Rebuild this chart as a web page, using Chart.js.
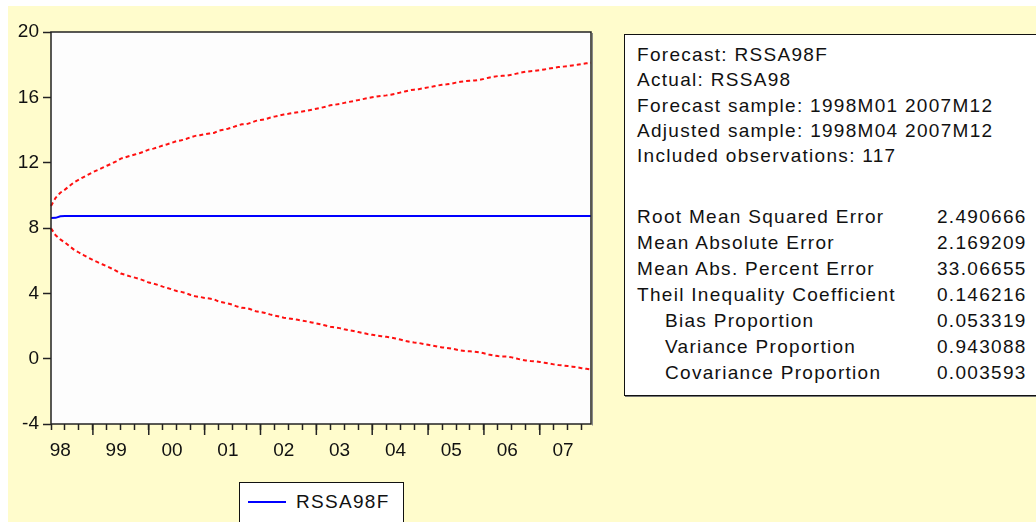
<!DOCTYPE html>
<html>
<head>
<meta charset="utf-8">
<script src="https://cdn.jsdelivr.net/npm/chart.js@4.4.0/dist/chart.umd.min.js"></script>
<style>
  body { margin: 0; width: 1036px; height: 522px; overflow: hidden; position: relative; background: #fff;
         font-family: "Liberation Sans", Arial, sans-serif; color: #111; }
  #panel { position: absolute; left: 8px; top: 6px; right: 0; bottom: 0; background: #fffccc; }
  #chartBox { position: absolute; left: 0; top: 0; width: 600px; height: 522px; }
  #legend { position: absolute; left: 239px; top: 482px; width: 163px; height: 50px; background: #fff;
            border: 1px solid #111; }
  #legend .swatch { position: absolute; left: 8px; top: 18px; width: 38px; height: 2px; background: #0000ff; }
  #legend .name { position: absolute; left: 56px; top: 8px; font-size: 19px; line-height: 22px; letter-spacing: 1.3px; }
  #stats { position: absolute; left: 624px; top: 34px; width: 440px; height: 360px; background: #fff;
           border: 1px solid #111; box-shadow: 1px 1px 0 #777; font-size: 19px; letter-spacing: 1.3px; }
  #stats div { position: absolute; white-space: pre; line-height: 22px; }
</style>
</head>
<body>
<div id="panel"></div>
<div id="chartBox"><canvas id="myChart" width="600" height="522"></canvas></div>
<div id="legend"><div class="swatch"></div><div class="name">RSSA98F</div></div>
<div id="stats"></div>
<script>
// monthly sample 1998M04 .. 2007M12
var months = [];
for (var yr = 1998; yr <= 2007; yr++) {
    for (var mo = 1; mo <= 12; mo++) {
        if (yr === 1998 && mo < 4) continue;
        months.push(yr + "M" + (mo < 10 ? "0" + mo : mo));
    }
}

var forecast = [
    8.61, 8.62, 8.72, 8.73, 8.73, 8.73, 8.73, 8.73, 8.73, 8.73,
    8.73, 8.73, 8.73, 8.73, 8.73, 8.73, 8.73, 8.73, 8.73, 8.73,
    8.73, 8.73, 8.73, 8.73, 8.73, 8.73, 8.73, 8.73, 8.73, 8.73,
    8.73, 8.73, 8.73, 8.73, 8.73, 8.73, 8.73, 8.73, 8.73, 8.73,
    8.73, 8.73, 8.73, 8.73, 8.73, 8.73, 8.73, 8.73, 8.73, 8.73,
    8.73, 8.73, 8.73, 8.73, 8.73, 8.73, 8.73, 8.73, 8.73, 8.73,
    8.73, 8.73, 8.73, 8.73, 8.73, 8.73, 8.73, 8.73, 8.73, 8.73,
    8.73, 8.73, 8.73, 8.73, 8.73, 8.73, 8.73, 8.73, 8.73, 8.73,
    8.73, 8.73, 8.73, 8.73, 8.73, 8.73, 8.73, 8.73, 8.73, 8.73,
    8.73, 8.73, 8.73, 8.73, 8.73, 8.73, 8.73, 8.73, 8.73, 8.73,
    8.73, 8.73, 8.73, 8.73, 8.73, 8.73, 8.73, 8.73, 8.73, 8.73,
    8.73, 8.73, 8.73, 8.73, 8.73, 8.73, 8.73
];

var upperBand = [
    9.35, 9.85, 10.16, 10.35, 10.58, 10.80, 10.96, 11.12, 11.27, 11.42,
    11.55, 11.68, 11.81, 11.94, 12.08, 12.25, 12.33, 12.42, 12.50, 12.58,
    12.68, 12.80, 12.86, 12.95, 13.05, 13.13, 13.22, 13.32, 13.37, 13.45,
    13.56, 13.64, 13.68, 13.74, 13.78, 13.82, 13.96, 14.02, 14.08, 14.16,
    14.27, 14.35, 14.36, 14.45, 14.56, 14.61, 14.66, 14.75, 14.82, 14.88,
    14.95, 14.99, 15.04, 15.08, 15.13, 15.18, 15.24, 15.30, 15.36, 15.43,
    15.51, 15.55, 15.59, 15.66, 15.72, 15.77, 15.83, 15.89, 15.95, 16.00,
    16.05, 16.09, 16.12, 16.16, 16.22, 16.29, 16.36, 16.43, 16.47, 16.50,
    16.56, 16.61, 16.66, 16.72, 16.77, 16.80, 16.84, 16.90, 16.96, 16.99,
    17.01, 17.03, 17.07, 17.13, 17.20, 17.26, 17.30, 17.32, 17.33, 17.38,
    17.45, 17.52, 17.57, 17.60, 17.62, 17.66, 17.71, 17.76, 17.81, 17.85,
    17.88, 17.91, 17.95, 17.99, 18.04, 18.08, 18.12
];

var lowerBand = [
    7.98, 7.55, 7.30, 7.11, 6.88, 6.66, 6.50, 6.34, 6.19, 6.04,
    5.91, 5.78, 5.65, 5.52, 5.38, 5.21, 5.13, 5.04, 4.96, 4.88,
    4.78, 4.66, 4.60, 4.51, 4.41, 4.33, 4.24, 4.14, 4.09, 4.01,
    3.90, 3.82, 3.78, 3.72, 3.68, 3.64, 3.50, 3.44, 3.38, 3.30,
    3.19, 3.11, 3.10, 3.01, 2.90, 2.85, 2.80, 2.71, 2.64, 2.58,
    2.51, 2.47, 2.42, 2.38, 2.33, 2.28, 2.22, 2.16, 2.10, 2.03,
    1.95, 1.91, 1.87, 1.80, 1.74, 1.69, 1.63, 1.57, 1.51, 1.46,
    1.41, 1.37, 1.34, 1.30, 1.24, 1.17, 1.10, 1.03, 0.99, 0.96,
    0.90, 0.85, 0.80, 0.74, 0.69, 0.66, 0.62, 0.56, 0.50, 0.47,
    0.45, 0.43, 0.39, 0.33, 0.26, 0.20, 0.16, 0.14, 0.13, 0.08,
    0.01, -0.06, -0.11, -0.14, -0.16, -0.20, -0.25, -0.30, -0.35, -0.39,
    -0.42, -0.45, -0.49, -0.53, -0.58, -0.62, -0.66
];

var yTicks = [-4, 0, 4, 8, 12, 16, 20];

var headerLines = [
    "Forecast: RSSA98F",
    "Actual: RSSA98",
    "Forecast sample: 1998M01 2007M12",
    "Adjusted sample: 1998M04 2007M12",
    "Included observations: 117"
];
var statNames = [
    "Root Mean Squared Error",
    "Mean Absolute Error",
    "Mean Abs. Percent Error",
    "Theil Inequality Coefficient",
    "   Bias Proportion",
    "   Variance Proportion",
    "   Covariance Proportion"
];
var statValues = ["2.490666", "2.169209", "33.06655", "0.146216", "0.053319", "0.943088", "0.003593"];

// tick positions from the month labels
var quarterIdx = [], yearIdx = [], labelIdx = [];
months.forEach(function (m, i) {
    var mm = m.slice(5);
    if (mm === "01" || mm === "04" || mm === "07" || mm === "10") quarterIdx.push(i);
    if (mm === "01") yearIdx.push(i);
    if (mm === "06") labelIdx.push(i);
});

// stats box text
var stats = document.getElementById("stats");
function addText(t, left, top) {
    var d = document.createElement("div");
    d.textContent = t;
    d.style.left = left + "px";
    d.style.top = top + "px";
    stats.appendChild(d);
}
headerLines.forEach(function (t, i) {
    addText(t, 12, 9 + i * 25.3);
});
statNames.forEach(function (t, i) {
    var indented = t.charAt(0) === " ";
    addText(t.trim(), indented ? 40 : 12, 171 + i * 26);
    addText(statValues[i], 312, 171 + i * 26);
});

var framePlugin = {
    id: "frame",
    beforeDraw: function (chart) {
        var a = chart.chartArea, c = chart.ctx;
        c.save();
        c.fillStyle = "#fdfdfd";
        c.fillRect(a.left, a.top, a.right - a.left, a.bottom - a.top);
        c.restore();
    },
    afterDraw: function (chart) {
        var a = chart.chartArea, c = chart.ctx, xs = chart.scales.x;
        c.save();
        c.strokeStyle = "#222";
        c.lineWidth = 1.5;
        c.strokeRect(a.left, a.top, a.right - a.left, a.bottom - a.top);
        c.strokeStyle = "#888";
        c.lineWidth = 1;
        c.beginPath();
        c.moveTo(a.right + 1.5, a.top + 1);
        c.lineTo(a.right + 1.5, a.bottom + 1.5);
        c.stroke();
        // long ticks at year starts
        c.strokeStyle = "#222";
        c.lineWidth = 1.5;
        yearIdx.forEach(function (v) {
            var px = xs.getPixelForValue(v);
            c.beginPath();
            c.moveTo(px, a.bottom);
            c.lineTo(px, a.bottom + 11);
            c.stroke();
        });
        c.restore();
    }
};

var tickFont = { family: "Liberation Sans", size: 19 };

var ctx = document.getElementById("myChart").getContext("2d");
var myChart = new Chart(ctx, {
    type: "line",
    data: {
        labels: months,
        datasets: [
            {
                label: "Upper",
                data: upperBand,
                borderColor: "#ff1010",
                borderWidth: 2,
                borderDash: [4, 3],
                pointRadius: 0,
                tension: 0,
            },
            {
                label: "Lower",
                data: lowerBand,
                borderColor: "#ff1010",
                borderWidth: 2,
                borderDash: [4, 3],
                pointRadius: 0,
                tension: 0,
            },
            {
                label: "RSSA98F",
                data: forecast,
                borderColor: "#0000ff",
                borderWidth: 2,
                pointRadius: 0,
                tension: 0,
            },
        ],
    },
    options: {
        responsive: false,
        animation: false,
        layout: { padding: { left: 0, top: 32, right: 9, bottom: 58 } },
        plugins: { legend: { display: false }, tooltip: { enabled: false } },
        scales: {
            x: {
                type: "category",
                offset: false,
                border: { display: false },
                grid: {
                    drawOnChartArea: false,
                    tickLength: 6,
                    tickWidth: 1.5,
                    tickColor: function (c) {
                        return c.tick && labelIdx.indexOf(c.tick.value) >= 0 ? "rgba(0,0,0,0)" : "#222";
                    },
                },
                ticks: {
                    autoSkip: false,
                    maxRotation: 0,
                    padding: 9,
                    color: "#111",
                    font: tickFont,
                    callback: function (value) {
                        return labelIdx.indexOf(value) >= 0 ? months[value].slice(2, 4) : "";
                    },
                },
                afterBuildTicks: function (s) {
                    s.ticks = quarterIdx.concat(labelIdx).sort(function (a, b) { return a - b; })
                        .map(function (v) { return { value: v }; });
                },
                afterFit: function (s) { s.height = 40; },
            },
            y: {
                min: yTicks[0],
                max: yTicks[yTicks.length - 1],
                border: { display: false },
                grid: { drawOnChartArea: false, tickLength: 8, tickWidth: 1.5, tickColor: "#222" },
                ticks: { stepSize: 4, padding: 4, color: "#111", font: tickFont },
                afterBuildTicks: function (s) {
                    s.ticks = yTicks.map(function (v) { return { value: v }; });
                },
                afterFit: function (s) { s.width = 51; },
            },
        },
    },
    plugins: [framePlugin],
});
</script>
</body>
</html>
